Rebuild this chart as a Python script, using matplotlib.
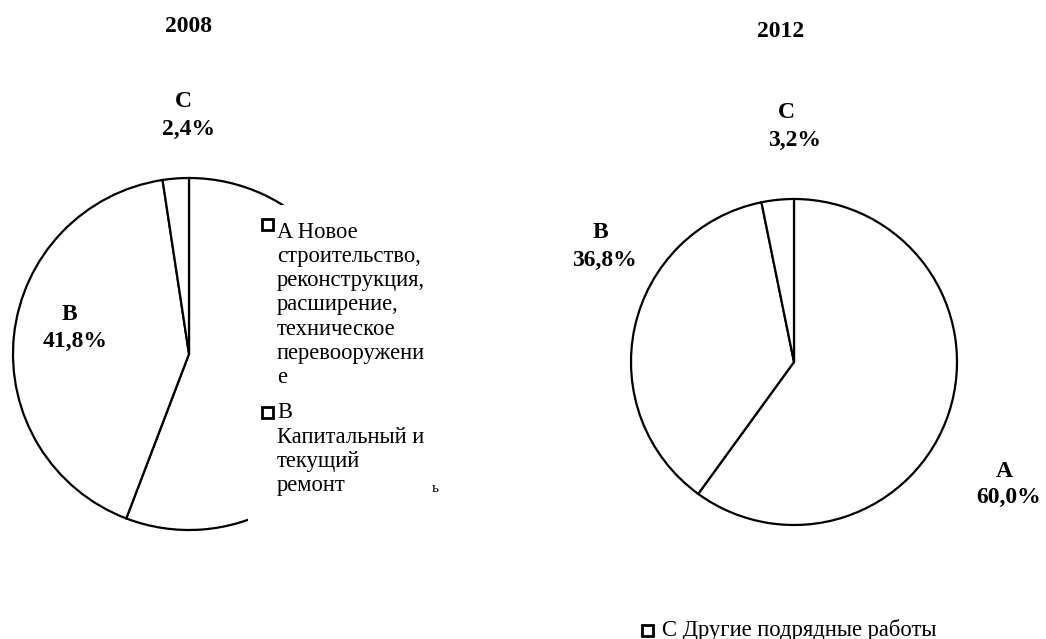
import matplotlib.pyplot as plt
from matplotlib.patches import Rectangle

plt.rcParams['font.family'] = ['Liberation Serif', 'DejaVu Serif']

W, H = 1046, 639

years = ['2008', '2012']
categories = ['A', 'B', 'C']
shares_2008 = [55.8, 41.8, 2.4]
shares_2012 = [60.0, 36.8, 3.2]
legend_labels = [
    'A Новое\nстроительство,\nреконструкция,\nрасширение,\nтехническое\nперевооружени\nе',
    'B\nКапитальный и\nтекущий\nремонт',
    'C Другие подрядные работы',
]


def fx(x):
    return x / W


def fy(y):
    return 1 - y / H


def pie_axes(cx, cy, r):
    return fig.add_axes([fx(cx - r), fy(cy + r), 2 * r / W, 2 * r / H])


def fmt(v):
    return f'{v:.1f}%'.replace('.', ',')


fig = plt.figure(figsize=(W / 100, H / 100), dpi=100)

ax1 = pie_axes(189, 354, 176)
ax2 = pie_axes(794, 362, 163)
for ax, vals in [(ax1, shares_2008), (ax2, shares_2012)]:
    ax.pie(vals, startangle=90, counterclock=False, colors=['white'] * 3,
           wedgeprops=dict(edgecolor='black', linewidth=1.6))
    ax.set_xlim(-1.0, 1.0)
    ax.set_ylim(-1.0, 1.0)
    ax.set_aspect('auto')
    ax.axis('off')

bold = dict(fontsize=17, fontweight='bold', ha='center', va='baseline')
fig.text(fx(188), fy(32), years[0], **bold)
fig.text(fx(781), fy(37), years[1], **bold)

# data labels: (category line, percent line) with their baselines
fig.text(fx(183), fy(107), categories[2], **bold)
fig.text(fx(189), fy(135), fmt(shares_2008[2]), **bold)
fig.text(fx(69), fy(320), categories[1], **bold)
fig.text(fx(75), fy(347), fmt(shares_2008[1]), **bold)
fig.text(fx(786), fy(118), categories[2], **bold)
fig.text(fx(795), fy(146), fmt(shares_2012[2]), **bold)
fig.text(fx(600), fy(238), categories[1], **bold)
fig.text(fx(604), fy(266), fmt(shares_2012[1]), **bold)
fig.text(fx(1004), fy(477), categories[0], **bold)
fig.text(fx(1009), fy(503), fmt(shares_2012[0]), **bold)

# legend box sitting on top of the 2008 pie
fig.patches.append(Rectangle((fx(248), fy(545)), fx(455) - fx(248), fy(205) - fy(545),
                             transform=fig.transFigure, facecolor='white',
                             edgecolor='none', zorder=5))

# multi-line text: baseline alignment uses the last line
leg = dict(fontsize=16.3, ha='left', va='baseline', linespacing=1.2, zorder=6)
fig.text(fx(277), fy(383), legend_labels[0], **leg)
fig.text(fx(277), fy(491), legend_labels[1], **leg)
fig.text(fx(662), fy(636), legend_labels[2], **leg)
fig.text(fx(432), fy(489), 'ь', fontsize=11, ha='left', va='center', zorder=6)

for mx, my in [(262, 219), (262, 407), (642, 625)]:
    fig.patches.append(Rectangle((fx(mx), fy(my + 11)), 11 / W, 11 / H,
                                 transform=fig.transFigure, facecolor='white',
                                 edgecolor='black', linewidth=2, zorder=7))

fig.savefig('out.png', dpi=100)
